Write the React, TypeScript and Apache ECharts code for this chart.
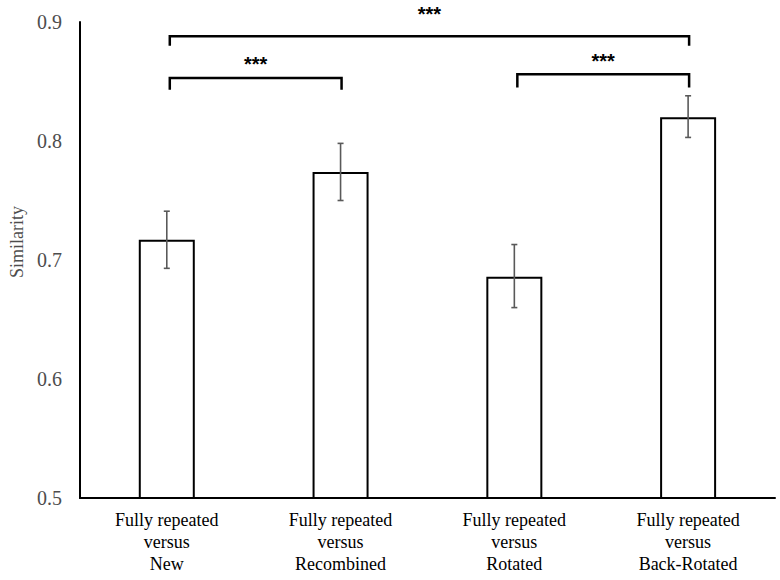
import React, { useEffect, useRef } from "react";
import * as echarts from "echarts";

const categories = [
  "Fully repeated\nversus\nNew",
  "Fully repeated\nversus\nRecombined",
  "Fully repeated\nversus\nRotated",
  "Fully repeated\nversus\nBack-Rotated",
];
const means = [0.717, 0.774, 0.686, 0.82];
const errLow = [0.693, 0.75, 0.66, 0.803];
const errHigh = [0.741, 0.798, 0.713, 0.838];
const yTicks = [0.5, 0.6, 0.7, 0.8, 0.9];

// [left category, right category, bracket level, left end, right end, label level]
const brackets = [
  [0, 1, 0.853, 0.843, 0.843, 0.865],
  [2, 3, 0.856, 0.845, 0.845, 0.867],
  [0, 3, 0.888, 0.88, 0.88, 0.907],
];
const bracketLabels = ["***", "***", "***"];

export default function App() {
  const ref = useRef<HTMLDivElement>(null);
  useEffect(() => {
    if (!ref.current) return;
    const chart = echarts.init(ref.current, null, { renderer: "svg" });
    const serif = "Liberation Serif";
    chart.setOption({
      animation: false,
      backgroundColor: "#ffffff",
      grid: { left: 76, right: 5, top: 22, bottom: 82, containLabel: false },
      xAxis: {
        type: "category",
        data: categories,
        axisLine: { show: true, lineStyle: { color: "#000", width: 2 } },
        axisTick: { show: false },
        axisLabel: {
          color: "#000",
          fontFamily: serif,
          fontSize: 18,
          lineHeight: 22,
          margin: 11,
          interval: 0,
        },
        splitLine: { show: false },
      },
      yAxis: {
        type: "value",
        min: yTicks[0],
        max: yTicks[yTicks.length - 1],
        interval: 0.1,
        name: "Similarity",
        nameLocation: "middle",
        nameGap: 49,
        nameRotate: 90,
        nameTextStyle: {
          color: "#4d4d4d",
          fontFamily: serif,
          fontSize: 18,
          padding: [0, 0, 0, 36],
        },
        axisLine: { show: true, lineStyle: { color: "#000", width: 2 } },
        axisTick: { show: false },
        splitLine: { show: false },
        axisLabel: {
          color: "#4d4d4d",
          fontFamily: serif,
          fontSize: 20,
          margin: 18,
          formatter: (v: number) => v.toFixed(1),
        },
      },
      series: [
        {
          type: "bar",
          data: means,
          barWidth: 56,
          itemStyle: { color: "#ffffff", borderColor: "#000", borderWidth: 2 },
          z: 2,
        },
        {
          type: "custom",
          data: means.map((_, i) => [i, errLow[i], errHigh[i]]),
          encode: { x: 0, y: [1, 2] },
          z: 5,
          renderItem: (params: any, api: any) => {
            const lo = api.coord([api.value(0), api.value(1)]);
            const hi = api.coord([api.value(0), api.value(2)]);
            const w = 3;
            const style = { stroke: "#595959", lineWidth: 1.6, fill: "none" };
            return {
              type: "group",
              children: [
                { type: "line", shape: { x1: lo[0], y1: lo[1], x2: hi[0], y2: hi[1] }, style },
                { type: "line", shape: { x1: lo[0] - w, y1: lo[1], x2: lo[0] + w, y2: lo[1] }, style },
                { type: "line", shape: { x1: hi[0] - w, y1: hi[1], x2: hi[0] + w, y2: hi[1] }, style },
              ],
            };
          },
        },
        {
          type: "custom",
          data: brackets,
          encode: { x: [0, 1], y: [2, 3, 4, 5] },
          clip: false,
          z: 6,
          renderItem: (params: any, api: any) => {
            const i = params.dataIndex;
            const l = api.value(0);
            const r = api.value(1);
            const top = api.coord([l, api.value(2)]);
            const lEnd = api.coord([l, api.value(3)]);
            const rTop = api.coord([r, api.value(2)]);
            const rEnd = api.coord([r, api.value(4)]);
            const lab = api.coord([l, api.value(5)]);
            const lx = top[0] + 3;
            const rx = rTop[0] + 1;
            return {
              type: "group",
              children: [
                {
                  type: "polyline",
                  shape: {
                    points: [
                      [lx, lEnd[1]],
                      [lx, top[1]],
                      [rx, top[1]],
                      [rx, rEnd[1]],
                    ],
                  },
                  style: { stroke: "#000", lineWidth: 2.5, fill: "none" },
                },
                {
                  type: "text",
                  x: (lx + rx) / 2,
                  y: lab[1],
                  style: {
                    text: bracketLabels[i],
                    fill: "#000",
                    fontFamily: "Liberation Sans",
                    fontWeight: "bold",
                    fontSize: 20,
                    align: "center",
                    verticalAlign: "middle",
                  },
                },
              ],
            };
          },
        },
      ],
    });
    return () => chart.dispose();
  }, []);
  return (
    <div
      ref={ref}
      style={{ position: "fixed", left: 0, top: 0, width: 780, height: 580 }}
    />
  );
}
